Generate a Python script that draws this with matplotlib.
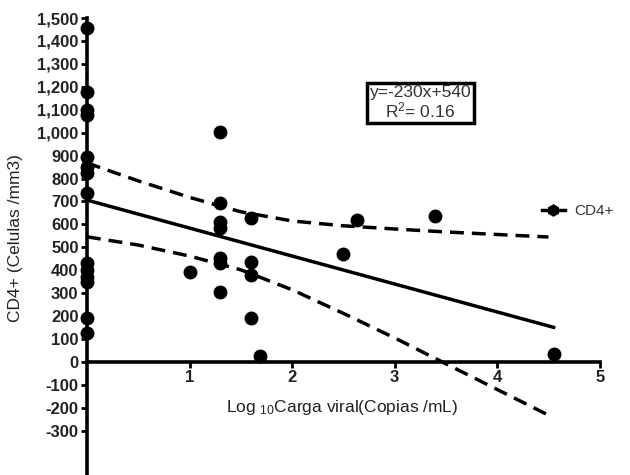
import matplotlib
matplotlib.use("Agg")
import matplotlib.pyplot as plt
from matplotlib.lines import Line2D

plt.rcParams['font.family'] = ['Liberation Sans', 'DejaVu Sans']
plt.rcParams['mathtext.fontset'] = 'custom'
plt.rcParams['mathtext.rm'] = 'Liberation Sans'
plt.rcParams['mathtext.it'] = 'Liberation Sans'

# data
carga = [0, 0, 0, 0, 0, 0, 0, 0, 0, 0, 0, 0, 0, 0,
         1.0, 1.3, 1.3, 1.3, 1.3, 1.3, 1.3, 1.3,
         1.6, 1.6, 1.6, 1.6, 1.69, 2.5, 2.63, 3.39, 4.55]
cd4 = [1457, 1178, 1099, 1077, 894, 850, 824, 737, 432, 401, 371, 349, 192, 126,
       392, 1003, 693, 611, 585, 453, 432, 305,
       628, 436, 379, 192, 25, 471, 619, 637, 35]

fit_x = [0, 4.55]
fit_y = [706, 151]

band_x = [0, 0.5, 1, 1.5, 2, 2.5, 3, 3.5, 4, 4.5]
band_hi = [868, 790, 718, 655, 615, 594, 580, 567, 556, 545]
band_lo = [546, 510, 462, 402, 315, 212, 105, -8, -120, -232]

yticks = list(range(-300, 1501, 100))
xticks = [1, 2, 3, 4, 5]

fig = plt.figure(figsize=(6.3, 4.75), dpi=100)
ax = fig.add_axes([0.138, 0.0, 0.814, 0.962])

ax.plot(carga, cd4, 'o', color='black', ms=9, clip_on=False, zorder=5)
ax.plot(fit_x, fit_y, '-', color='black', lw=2.5)
ax.plot(band_x, band_hi, '--', color='black', lw=2.5, dashes=(4, 2.3))
ax.plot(band_x, band_lo, '--', color='black', lw=2.5, dashes=(4, 2.3))

ax.set_xlim(0, 5)
ax.set_ylim(-493, 1500)
ax.spines['top'].set_visible(False)
ax.spines['right'].set_visible(False)
ax.spines['bottom'].set_position(('data', 0))
ax.spines['left'].set_linewidth(2.6)
ax.spines['bottom'].set_linewidth(2.6)

ax.set_yticks(yticks)
ax.set_yticklabels([f'{v:,}' for v in yticks])
ax.set_xticks(xticks)
ax.set_xticklabels([str(v) for v in xticks])
ax.tick_params(axis='both', length=4, width=2, direction='out', pad=2, labelsize=12)
for lab in ax.get_xticklabels() + ax.get_yticklabels():
    lab.set_fontweight('bold')
    lab.set_color('#222222')

ax.text(2.49, -200, r'Log $_{10}$Carga viral(Copias /mL)', ha='center', va='center',
        fontsize=12.5, color='#222222')
ax.text(-0.70, 540, 'CD4+ (Celulas /mm3)', rotation=90, ha='center', va='center',
        fontsize=12.5, color='#222222', clip_on=False)

ax.text(3.25, 1130, 'y=-230x+540\nR$^2$= 0.16', ha='center', va='center',
        fontsize=12.5, color='#333333', linespacing=1.0,
        bbox=dict(boxstyle='square,pad=0.15', facecolor='white', edgecolor='black', lw=2.5))

handle = Line2D([], [], color='black', lw=2.5, marker='h', ms=8)
ax.legend([handle], ['CD4+'], loc='center left', bbox_to_anchor=(0.86, 0.577),
          frameon=False, fontsize=11, handlelength=1.5, handletextpad=0.6,
          labelcolor='#333333')

fig.savefig('out.png', dpi=100)
